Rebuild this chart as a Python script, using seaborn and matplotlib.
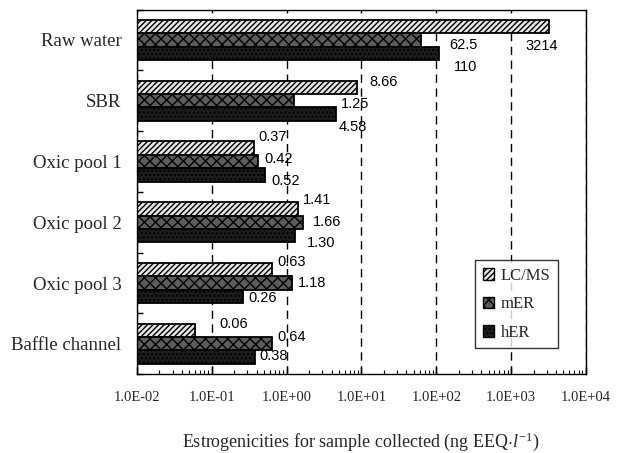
import numpy as np
import pandas as pd
import matplotlib
matplotlib.use("Agg")
import matplotlib.pyplot as plt
import seaborn as sns
from matplotlib.patches import Patch
from matplotlib.ticker import FixedLocator, FuncFormatter, LogLocator, NullFormatter

# ---------------- data ----------------
categories = ["Raw water", "SBR", "Oxic pool 1", "Oxic pool 2", "Oxic pool 3", "Baffle channel"]
series = ["LC/MS", "mER", "hER"]
lcms = [3214, 8.66, 0.37, 1.41, 0.63, 0.06]
mer = [62.5, 1.25, 0.42, 1.66, 1.18, 0.64]
her = [110, 4.58, 0.52, 1.30, 0.26, 0.38]
lcms_labels = ["3214", "8.66", "0.37", "1.41", "0.63", "0.06"]
mer_labels = ["62.5", "1.25", "0.42", "1.66", "1.18", "0.64"]
her_labels = ["110", "4.58", "0.52", "1.30", "0.26", "0.38"]
xtick_values = [1e-2, 1e-1, 1e0, 1e1, 1e2, 1e3, 1e4]

# ---------------- styles / layout ----------------
styles = {
    "LC/MS": dict(face="#e6e6e6", hatch="//////", hcol="#8a8a8a"),
    "mER": dict(face="#5c5c5c", hatch="xxx", hcol="#ffffff"),
    "hER": dict(face="#1c1c1c", hatch="....", hcol="#808080"),
}
# label offsets in pixels (dx right, dy down) from bar end / bar centre
label_offsets = {
    "LC/MS": [(-24, 19), (13, -5), (4, -11), (5, -9), (6, -8), (24, -6)],
    "mER": [(28, 5), (47, 3), (6, -2), (10, 0), (6, 0), (5, -7)],
    "hER": [(15, 14), (3, 13), (6, 6), (12, 7), (6, 2), (4, -1)],
}

values = {"LC/MS": lcms, "mER": mer, "hER": her}
texts = {"LC/MS": lcms_labels, "mER": mer_labels, "hER": her_labels}

df = pd.DataFrame({
    "Sample": categories * 3,
    "Series": [s for s in series for _ in categories],
    "Value": lcms + mer + her,
})

sns.set_theme(style="white")
plt.rcParams["font.family"] = ["Liberation Serif", "DejaVu Serif"]
plt.rcParams["mathtext.fontset"] = "custom"
plt.rcParams["mathtext.rm"] = "Liberation Serif"
plt.rcParams["mathtext.it"] = "Liberation Serif:italic"
plt.rcParams["hatch.linewidth"] = 1.0

fig = plt.figure(figsize=(6.22, 4.53), dpi=100)
ax = fig.add_axes([0.220, 0.174, 0.722, 0.805])

sns.barplot(data=df, y="Sample", x="Value", hue="Series", orient="h",
            order=categories, hue_order=series,
            palette=[styles[s]["face"] for s in series],
            edgecolor="black", linewidth=1.3, width=0.66,
            legend=False, ax=ax)
ax.set_xscale("log")

for cont, s in zip(ax.containers, series):
    st = styles[s]
    for j, p in enumerate(cont.patches):
        p.set_facecolor(st["face"])
        p.set_hatch(st["hatch"])
        if hasattr(p, "set_hatchcolor"):
            p.set_hatchcolor(st["hcol"])
        v = values[s][j]
        yc = p.get_y() + p.get_height() / 2
        dx, dy = label_offsets[s][j]
        ax.annotate(texts[s][j], xy=(v, yc), xytext=(dx, -dy),
                    textcoords="offset pixels", ha="left", va="center",
                    fontsize=10.5, family="Liberation Sans", color="black")

ax.set_xlim(1e-2, 1e4)
ax.set_axisbelow(True)
ax.xaxis.grid(True, which="major", linestyle=(0, (6, 4)), color="black", linewidth=1.0)
ax.yaxis.grid(False)

ax.xaxis.set_major_locator(FixedLocator(xtick_values))
ax.xaxis.set_major_formatter(FuncFormatter(lambda v, pos: f"{v:.1E}"))
ax.xaxis.set_minor_locator(LogLocator(base=10, subs=np.arange(2, 10), numticks=20))
ax.xaxis.set_minor_formatter(NullFormatter())
ax.tick_params(axis="x", which="major", direction="in", length=5, width=1,
               color="black", pad=12, labelsize=10.5, bottom=True)
ax.tick_params(axis="x", which="minor", direction="in", length=3, width=0.8,
               color="black", bottom=True)

ax.yaxis.set_minor_locator(FixedLocator(np.arange(len(categories) + 1) - 0.5))
ax.tick_params(axis="y", which="major", length=0, pad=11, labelsize=13.5)
ax.tick_params(axis="y", which="minor", direction="in", length=4, width=1,
               color="black", left=True)

for sp in ax.spines.values():
    sp.set_visible(True)
    sp.set_color("black")
    sp.set_linewidth(1.0)

ax.set_ylabel("")
ax.set_xlabel("Estrogenicities for sample collected (ng EEQ$\\cdot\\mathit{l}^{-1}$)",
              fontsize=13, labelpad=19)

handles = []
for s in series:
    st = styles[s]
    kw = dict(facecolor=st["face"], edgecolor="black", hatch=st["hatch"], linewidth=1.0, label=s)
    h = Patch(**kw)
    if hasattr(h, "set_hatchcolor"):
        h.set_hatchcolor(st["hcol"])
    handles.append(h)
leg = ax.legend(handles=handles, loc="lower left", bbox_to_anchor=(0.753, 0.071),
                fontsize=12, frameon=True, fancybox=False, edgecolor="black",
                handlelength=0.7, handleheight=0.7, handletextpad=0.4,
                labelspacing=0.75, borderpad=0.45, borderaxespad=0)
leg.get_frame().set_linewidth(1.0)

fig.savefig("out.png", dpi=100, facecolor="white")
